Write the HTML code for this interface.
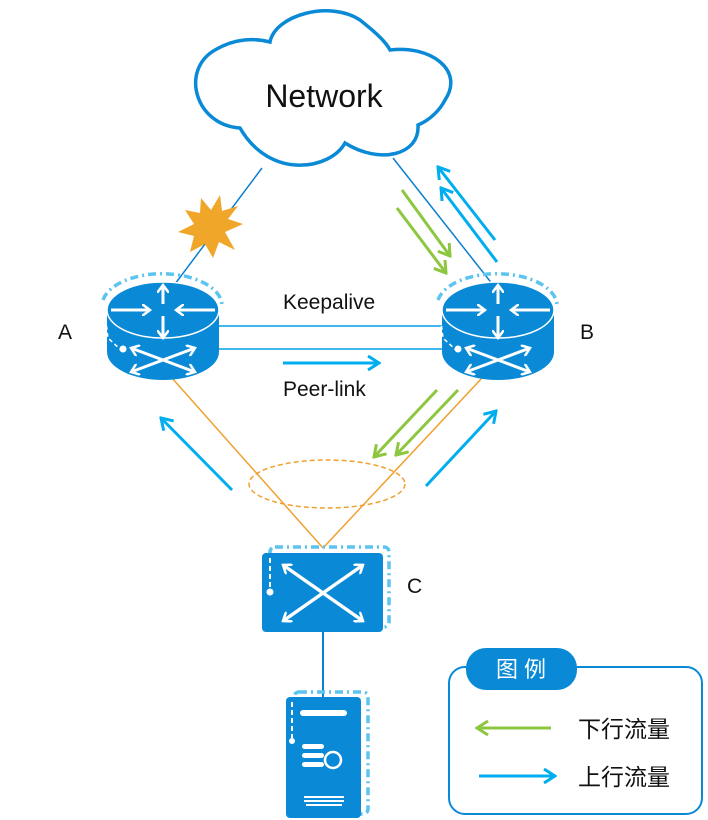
<!DOCTYPE html>
<html><head><meta charset="utf-8"><style>
html,body{margin:0;padding:0;background:#fff;}
svg{display:block;}
text{font-family:"Liberation Sans","Noto Sans CJK SC",sans-serif;}
</style></head><body>
<svg width="708" height="820" viewBox="0 0 708 820" xmlns="http://www.w3.org/2000/svg">
<defs>
<marker id="ab" markerWidth="14" markerHeight="16" refX="12" refY="8" orient="auto" markerUnits="userSpaceOnUse"><path d="M1,1 L12,8 L1,15" fill="none" stroke="#00aeef" stroke-width="3"/></marker>
<marker id="ag" markerWidth="14" markerHeight="16" refX="12" refY="8" orient="auto" markerUnits="userSpaceOnUse"><path d="M1,1 L12,8 L1,15" fill="none" stroke="#8dc63f" stroke-width="3"/></marker>
<marker id="aw" markerWidth="10" markerHeight="12" refX="8" refY="6" orient="auto" markerUnits="userSpaceOnUse"><path d="M0,0 L8,6 L0,12" fill="none" stroke="#fff" stroke-width="2.5"/></marker>
</defs>

<line x1="262" y1="168" x2="163" y2="300" stroke="#0a7fd0" stroke-width="1.5"/>
<line x1="393" y1="158" x2="497" y2="290" stroke="#0a7fd0" stroke-width="1.5"/>
<line x1="172" y1="378" x2="323" y2="548" stroke="#f0a030" stroke-width="1.5"/>
<line x1="482" y1="378" x2="323" y2="548" stroke="#f0a030" stroke-width="1.5"/>
<ellipse cx="327" cy="484" rx="78" ry="24" fill="none" stroke="#f0a030" stroke-width="1.5" stroke-dasharray="5,3"/>
<line x1="218" y1="326" x2="443" y2="326" stroke="#00a0e9" stroke-width="1.5"/>
<line x1="218" y1="349" x2="443" y2="349" stroke="#00a0e9" stroke-width="1.5"/>
<line x1="323" y1="632" x2="323" y2="697" stroke="#0a7fd0" stroke-width="2"/>

<path d="M240,128 C195,125 180,70 215,50 C235,38 255,38 270,42 C275,15 330,0 360,20 C370,28 385,40 390,50 C430,45 465,70 445,100 C440,110 430,120 418,125 C420,155 380,165 345,143 C330,170 270,180 240,128 Z" fill="#fff" stroke="#0a8ad6" stroke-width="3.5"/>
<text x="324" y="107" font-size="32" text-anchor="middle" fill="#111">Network</text>

<polygon points="243,224 225,232 235,250 219,242 213,258 205,244 190,252 194,236 178,232 194,224 185,210 200,213 201,198 211,210 220,195 222,211 238,206 228,219" fill="#f0a628"/>

<g stroke="#8dc63f" stroke-width="3" fill="none">
<line x1="402" y1="190" x2="450" y2="256" marker-end="url(#ag)"/>
<line x1="397" y1="208" x2="446" y2="273" marker-end="url(#ag)"/>
<line x1="437" y1="390" x2="374" y2="457" marker-end="url(#ag)"/>
<line x1="458" y1="390" x2="396" y2="455" marker-end="url(#ag)"/>
<line x1="551" y1="728" x2="477" y2="728" marker-end="url(#ag)"/>
</g>
<g stroke="#00aeef" stroke-width="3" fill="none">
<line x1="495" y1="240" x2="438" y2="167" marker-end="url(#ab)"/>
<line x1="497" y1="262" x2="441" y2="188" marker-end="url(#ab)"/>
<line x1="232" y1="490" x2="161" y2="418" marker-end="url(#ab)"/>
<line x1="426" y1="486" x2="496" y2="411" marker-end="url(#ab)"/>
<line x1="283" y1="363" x2="379" y2="363" marker-end="url(#ab)"/>
<line x1="479" y1="776" x2="555" y2="776" marker-end="url(#ab)"/>
</g>

<g id="rA">
<path d="M107,310 L107,352 A56,28 0 0 0 219,352 L219,310 Z" fill="#0a8ad6"/>
<ellipse cx="163" cy="310" rx="56" ry="28" fill="#0a8ad6" stroke="#fff" stroke-width="1.5"/>
<path d="M103,300 A60,32 0 0 1 222,305" fill="none" stroke="#5bc4ef" stroke-width="3.5" stroke-dasharray="8,4,2,4"/>
<path d="M104,305 L108,338 L122,351" fill="none" stroke="#fff" stroke-width="1.5" stroke-dasharray="4,3"/>
<circle cx="123" cy="349" r="3.5" fill="#fff"/>
<g stroke="#fff" stroke-width="3" fill="none">
<line x1="111" y1="310" x2="150" y2="310" marker-end="url(#aw)"/>
<line x1="215" y1="310" x2="176" y2="310" marker-end="url(#aw)"/>
<line x1="163" y1="316" x2="163" y2="338" marker-end="url(#aw)"/>
<line x1="163" y1="304" x2="163" y2="285" marker-end="url(#aw)"/>
<line x1="163" y1="360" x2="131" y2="348" marker-end="url(#aw)"/>
<line x1="163" y1="360" x2="195" y2="348" marker-end="url(#aw)"/>
<line x1="163" y1="360" x2="131" y2="372" marker-end="url(#aw)"/>
<line x1="163" y1="360" x2="195" y2="372" marker-end="url(#aw)"/>
</g>
</g>
<use href="#rA" transform="translate(335,0)"/>

<text x="283" y="309" font-size="21" fill="#111">Keepalive</text>
<text x="283" y="396" font-size="21" fill="#111">Peer-link</text>
<text x="58" y="339" font-size="21" fill="#111">A</text>
<text x="580" y="339" font-size="21" fill="#111">B</text>
<text x="407" y="593" font-size="21" fill="#111">C</text>

<rect x="270" y="547" width="119" height="80" rx="5" fill="none" stroke="#5bc4ef" stroke-width="3.5" stroke-dasharray="8,4,2,4"/>
<rect x="262" y="553" width="121" height="79" rx="4" fill="#0a8ad6"/>
<line x1="270" y1="558" x2="270" y2="590" stroke="#fff" stroke-width="2" stroke-dasharray="5,3"/>
<circle cx="270" cy="592" r="3.5" fill="#fff"/>
<g stroke="#fff" stroke-width="3.5" fill="none">
<line x1="323" y1="593" x2="283" y2="565" marker-end="url(#aw)"/>
<line x1="323" y1="593" x2="363" y2="565" marker-end="url(#aw)"/>
<line x1="323" y1="593" x2="283" y2="621" marker-end="url(#aw)"/>
<line x1="323" y1="593" x2="363" y2="621" marker-end="url(#aw)"/>
</g>

<rect x="294" y="692" width="74" height="122" rx="5" fill="none" stroke="#5bc4ef" stroke-width="3.5" stroke-dasharray="8,4,2,4"/>
<rect x="286" y="697" width="75" height="121" rx="4" fill="#0a8ad6"/>
<line x1="292" y1="702" x2="292" y2="738" stroke="#fff" stroke-width="2" stroke-dasharray="5,3"/>
<circle cx="292" cy="741" r="3" fill="#fff"/>
<rect x="300" y="710" width="47" height="6" rx="3" fill="#fff"/>
<g fill="#fff"><rect x="302" y="744" width="22" height="5" rx="2.5"/><rect x="302" y="753" width="22" height="5" rx="2.5"/><rect x="302" y="762" width="22" height="5" rx="2.5"/></g>
<circle cx="333" cy="760" r="8" fill="#0a8ad6" stroke="#fff" stroke-width="2.5"/>
<rect x="304" y="796" width="40" height="2" fill="#fff"/><rect x="304" y="800" width="40" height="2" fill="#fff"/><rect x="306" y="804" width="36" height="2" fill="#fff"/>

<rect x="449" y="667" width="253" height="147" rx="16" fill="none" stroke="#0a8ad6" stroke-width="2"/>
<rect x="466" y="648" width="111" height="42" rx="20" fill="#0a8ad6"/>
<text x="521" y="677" font-size="22" fill="#fff" text-anchor="middle">图 例</text>
<text x="578" y="737" font-size="23" fill="#111">下行流量</text>
<text x="578" y="785" font-size="23" fill="#111">上行流量</text>
</svg>
</body></html>
